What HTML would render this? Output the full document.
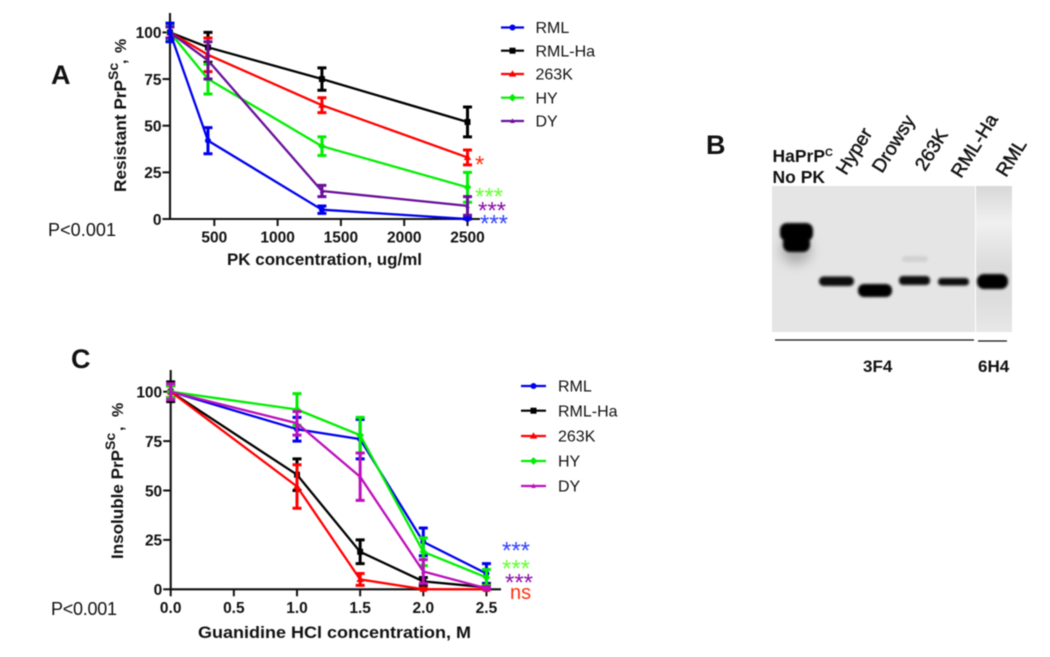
<!DOCTYPE html>
<html>
<head>
<meta charset="utf-8">
<title>PrPSc resistance charts</title>
<style>
html,body{margin:0;padding:0;background:#fff;width:1050px;height:657px;overflow:hidden}
svg{display:block;filter:blur(0.4px)}
text{font-family:"Liberation Sans",Arial,sans-serif;fill:#111}
.b{font-weight:bold}
</style>
</head>
<body>
<svg id="fig" xmlns="http://www.w3.org/2000/svg" width="1050" height="657" viewBox="0 0 1050 657">
<defs>
<filter id="b1" x="-30%" y="-100%" width="160%" height="300%"><feGaussianBlur stdDeviation="1.3"/></filter>
<filter id="b2" x="-30%" y="-50%" width="160%" height="200%"><feGaussianBlur stdDeviation="3"/></filter>
<filter id="b3" x="-50%" y="-50%" width="200%" height="200%"><feGaussianBlur stdDeviation="6"/></filter>
<linearGradient id="rg" x1="0" y1="0" x2="0" y2="1">
<stop offset="0" stop-color="#d8d8d8"/><stop offset=".25" stop-color="#f0f0f0"/><stop offset=".55" stop-color="#dcdcdc"/><stop offset=".8" stop-color="#dedede"/><stop offset="1" stop-color="#e8e8e8"/>
</linearGradient>
</defs>

<text class="b" x="51" y="84" font-size="27">A</text>
<text class="b" x="706" y="154" font-size="27">B</text>
<text class="b" x="71" y="368" font-size="27">C</text>
<text x="48" y="236" font-size="18" textLength="68" fill="#222">P&lt;0.001</text>
<text x="51" y="615" font-size="18" textLength="66" fill="#222">P&lt;0.001</text>

<g id="chartA"></g>
<g id="chartC"></g>

<!-- Panel A titles -->
<text class="b" x="227" y="265" font-size="17" textLength="195" lengthAdjust="spacingAndGlyphs">PK concentration, ug/ml</text>
<text class="b" transform="translate(126,192) rotate(-90)" font-size="17" textLength="112" lengthAdjust="spacingAndGlyphs">Resistant PrP</text>
<text class="b" transform="translate(118,80) rotate(-90)" font-size="14">Sc</text>
<text class="b" transform="translate(126,64) rotate(-90)" font-size="16">,</text>
<text class="b" transform="translate(126,53) rotate(-90)" font-size="16">%</text>

<!-- Panel C titles -->
<text class="b" x="198" y="638" font-size="17" textLength="273" lengthAdjust="spacingAndGlyphs">Guanidine HCl concentration, M</text>
<text class="b" transform="translate(123,559) rotate(-90)" font-size="17" textLength="109" lengthAdjust="spacingAndGlyphs">Insoluble PrP</text>
<text class="b" transform="translate(115,450) rotate(-90)" font-size="14">Sc</text>
<text class="b" transform="translate(123,431) rotate(-90)" font-size="16">,</text>
<text class="b" transform="translate(123,417) rotate(-90)" font-size="16">%</text>

<!-- Significance marks -->
<text x="475" y="172.5" font-size="24" style="fill:#ff3010">*</text>
<text x="475" y="204.5" font-size="24" style="fill:#66ff33">***</text>
<text x="478" y="218.5" font-size="24" style="fill:#8a10a8">***</text>
<text x="480" y="231.5" font-size="24" style="fill:#3344ff">***</text>
<text x="502" y="558.5" font-size="24" style="fill:#3344ff">***</text>
<text x="502" y="576.5" font-size="24" style="fill:#66ff33">***</text>
<text x="505" y="590.5" font-size="24" style="fill:#8a10a8">***</text>
<text x="510" y="599" font-size="20" style="fill:#ff3010">ns</text>

<!-- Panel B -->
<g id="blot">
<rect x="772" y="186" width="203" height="146" fill="#e5e5e5"/>
<rect x="976" y="186" width="36" height="146" fill="url(#rg)"/>
<ellipse cx="796" cy="250" rx="15" ry="14" fill="#aaa" filter="url(#b3)"/>
<rect x="780" y="223" width="33" height="18" rx="7" fill="#000" filter="url(#b1)"/>
<rect x="783" y="236" width="27" height="16" rx="7" fill="#060606" filter="url(#b1)"/>
<rect x="819" y="276.5" width="35" height="9.5" rx="4.5" fill="#0a0a0a" filter="url(#b1)"/>
<rect x="858" y="284" width="34" height="13" rx="6" fill="#050505" filter="url(#b1)"/>
<rect x="902" y="256" width="26" height="6" rx="3" fill="#d2d2d2" filter="url(#b1)"/>
<rect x="899" y="276" width="31" height="9" rx="4" fill="#080808" filter="url(#b1)"/>
<rect x="938" y="278" width="31" height="7.5" rx="3.5" fill="#0c0c0c" filter="url(#b1)"/>
<rect x="977" y="274" width="31" height="15" rx="7" fill="#000" filter="url(#b1)"/>
<line x1="775" y1="340" x2="974" y2="340" stroke="#111" stroke-width="1.2"/>
<line x1="978" y1="341" x2="1007" y2="341" stroke="#111" stroke-width="1.2"/>
<text class="b" x="863" y="372" font-size="17">3F4</text>
<text class="b" x="978" y="372" font-size="17">6H4</text>
<text class="b" x="772.5" y="162" font-size="17.5">HaPrP<tspan dy="-6" font-size="11">C</tspan></text>
<text class="b" x="772.5" y="183" font-size="17.5">No PK</text>
<text transform="translate(846,176) rotate(-58)" font-size="19" stroke="#111" stroke-width="0.45">Hyper</text>
<text transform="translate(882,174) rotate(-58)" font-size="19" stroke="#111" stroke-width="0.45">Drowsy</text>
<text transform="translate(925,172) rotate(-58)" font-size="19" stroke="#111" stroke-width="0.45">263K</text>
<text transform="translate(961,179) rotate(-58)" font-size="19" stroke="#111" stroke-width="0.45">RML-Ha</text>
<text transform="translate(1006,178) rotate(-58)" font-size="19" stroke="#111" stroke-width="0.45">RML</text>
</g>

<script>
// Panel A data
var aCategories = [150, 450, 1350, 2500];
var aXTicks = [500, 1000, 1500, 2000, 2500];
var aYTicks = [0, 25, 50, 75, 100];
var aRML = [100, 42, 5, 0];
var aRMLErr = [5, 7, 2, 0.5];
var aRMLHa = [100, 92, 75, 52];
var aRMLHaErr = [3, 8, 6, 8];
var a263K = [100, 88, 61, 33];
var a263KErr = [3, 9, 4, 4];
var aHY = [100, 75, 39, 17];
var aHYErr = [4, 8, 5, 8];
var aDY = [100, 85, 15, 7];
var aDYErr = [3, 10, 3, 5];

// Panel C data
var cCategories = [0, 1, 1.5, 2, 2.5];
var cXTicks = [0, 0.5, 1, 1.5, 2, 2.5];
var cYTicks = [0, 25, 50, 75, 100];
var cRML = [100, 81, 76, 24, 8];
var cRMLErr = [3, 6, 10, 7, 5];
var cRMLHa = [100, 58, 19, 4, 1];
var cRMLHaErr = [5, 8, 6, 2, 1.5];
var c263K = [100, 52, 5, 0, 0];
var c263KErr = [3, 11, 3, 0.5, 0.5];
var cHY = [100, 91, 78, 19, 6];
var cHYErr = [3, 8, 9, 7, 4];
var cDY = [100, 84, 57, 9, 0.5];
var cDYErr = [4, 6, 12, 6, 1];

var legendLabels = ['RML', 'RML-Ha', '263K', 'HY', 'DY'];

var NS = 'http://www.w3.org/2000/svg';

function make(parent, tag, attrs, name) {
  var e = document.createElementNS(NS, tag);
  for (var k in attrs) { e.setAttribute(k, attrs[k]); }
  
  
  parent.appendChild(e);
  return e;
}

function marker(parent, shape, cx, cy, color, name) {
  if (shape === 'circle') {
    return make(parent, 'circle', {cx: cx, cy: cy, r: 3, fill: color}, name);
  }
  if (shape === 'square') {
    return make(parent, 'rect', {x: cx - 3, y: cy - 3, width: 6, height: 6, fill: color}, name);
  }
  var pts;
  if (shape === 'triangle') {
    pts = [[cx, cy - 3.8], [cx + 3.8, cy + 2.6], [cx - 3.8, cy + 2.6]];
  } else if (shape === 'diamond') {
    pts = [[cx, cy - 3.9], [cx + 3.9, cy], [cx, cy + 3.9], [cx - 3.9, cy]];
  } else {
    pts = [[cx, cy - 2.8], [cx + 2.2, cy + 2], [cx - 2.2, cy + 2]];
  }
  return make(parent, 'polygon', {points: pts.map(function (p) { return p.join(','); }).join(' '), fill: color}, name);
}

function drawSeries(parent, id, cats, vals, errs, color, shape, xf, yf) {
  var g = make(parent, 'g', {}, 'series-' + id);
  var d = cats.map(function (c, i) { return (i ? 'L' : 'M') + xf(c).toFixed(1) + ' ' + yf(vals[i]).toFixed(1); }).join(' ');
  cats.forEach(function (c, i) {
    var x = xf(c);
    var hi = yf(vals[i] + errs[i]);
    var lo = yf(Math.max(vals[i] - errs[i], 0));
    make(g, 'path', {
      d: 'M' + x + ' ' + hi + ' V' + lo + ' M' + (x - 4.5) + ' ' + hi + ' H' + (x + 4.5) + ' M' + (x - 4.5) + ' ' + lo + ' H' + (x + 4.5),
      stroke: color, 'stroke-width': 3, fill: 'none'
    }, 'error-bar-' + id + '-' + i);
  });
  make(g, 'path', {d: d, stroke: color, 'stroke-width': 2.3, fill: 'none', 'stroke-linejoin': 'round'}, 'line-' + id);
  cats.forEach(function (c, i) {
    marker(g, shape, xf(c), yf(vals[i]), color, 'point-' + id + '-' + i);
  });
}

function drawAxes(parent, prefix, x0, y0, yTop, xEnd, xTicks, yTicks, xf, yf, fmt) {
  make(parent, 'path', {d: 'M' + x0 + ' ' + yTop + ' V' + (y0 + 1), stroke: '#111', 'stroke-width': 2.1, fill: 'none'}, prefix + '-y-axis');
  make(parent, 'path', {d: 'M' + (x0 - 1) + ' ' + y0 + ' H' + xEnd, stroke: '#111', 'stroke-width': 2.1, fill: 'none'}, prefix + '-x-axis');
  yTicks.forEach(function (v) {
    var y = yf(v);
    make(parent, 'path', {d: 'M' + (x0 - 7.5) + ' ' + y + ' H' + x0, stroke: '#111', 'stroke-width': 2}, prefix + '-y-tick-' + v);
    var t = make(parent, 'text', {x: x0 - 8.5, y: y + 5.8, 'font-size': 15.5, 'text-anchor': 'end', 'font-weight': 'bold'}, prefix + '-y-label-' + v);
    t.textContent = String(v);
  });
  xTicks.forEach(function (v) {
    var x = xf(v);
    make(parent, 'path', {d: 'M' + x + ' ' + y0 + ' V' + (y0 + 7), stroke: '#111', 'stroke-width': 2}, prefix + '-x-tick-' + v);
    var t = make(parent, 'text', {x: x, y: y0 + 23.5, 'font-size': 15.5, 'text-anchor': 'middle', 'font-weight': 'bold'}, prefix + '-x-label-' + v);
    t.textContent = fmt(v);
  });
}

function drawLegend(parent, prefix, x1, x2, tx, rows, colors, shapes) {
  legendLabels.forEach(function (label, i) {
    var g = make(parent, 'g', {}, prefix + '-legend-entry-' + label.toLowerCase());
    make(g, 'line', {x1: x1, x2: x2, y1: rows[i], y2: rows[i], stroke: colors[i], 'stroke-width': 2.2}, prefix + '-legend-line-' + i);
    marker(g, shapes[i], (x1 + x2) / 2, rows[i], colors[i], prefix + '-legend-marker-' + i);
    var t = make(g, 'text', {x: tx, y: rows[i] + 5.7, 'font-size': 16}, prefix + '-legend-label-' + i);
    t.textContent = label;
  });
}

function xA(v) { return 170 + (v - 150) * 0.1266; }
function yA(v) { return 219 - v * 1.866; }
function xC(v) { return 170.7 + v * 126.3; }
function yC(v) { return 589.3 - v * 1.976; }

var chartA = document.getElementById('chartA');
var chartC = document.getElementById('chartC');
var shapes = ['circle', 'square', 'triangle', 'diamond', 'star'];

drawAxes(chartA, 'a', 170, 219, 13, 480, aXTicks, aYTicks, xA, yA, function (v) { return String(v); });
drawSeries(chartA, 'a-rml-ha', aCategories, aRMLHa, aRMLHaErr, '#000000', 'square', xA, yA);
drawSeries(chartA, 'a-263k', aCategories, a263K, a263KErr, '#ff0000', 'triangle', xA, yA);
drawSeries(chartA, 'a-hy', aCategories, aHY, aHYErr, '#00ee00', 'diamond', xA, yA);
drawSeries(chartA, 'a-dy', aCategories, aDY, aDYErr, '#6a0f9a', 'star', xA, yA);
drawSeries(chartA, 'a-rml', aCategories, aRML, aRMLErr, '#0000ee', 'circle', xA, yA);
drawLegend(chartA, 'a', 501, 524, 535.5, [27.5, 50.7, 74, 97.7, 121], ['#0000ee', '#000000', '#ff0000', '#00ee00', '#6a0f9a'], shapes);

drawAxes(chartC, 'c', 170.7, 589.3, 370, 501, cXTicks, cYTicks, xC, yC, function (v) { return v.toFixed(1); });
drawSeries(chartC, 'c-rml', cCategories, cRML, cRMLErr, '#0000ee', 'circle', xC, yC);
drawSeries(chartC, 'c-rml-ha', cCategories, cRMLHa, cRMLHaErr, '#000000', 'square', xC, yC);
drawSeries(chartC, 'c-263k', cCategories, c263K, c263KErr, '#ff0000', 'triangle', xC, yC);
drawSeries(chartC, 'c-hy', cCategories, cHY, cHYErr, '#00ee00', 'diamond', xC, yC);
drawSeries(chartC, 'c-dy', cCategories, cDY, cDYErr, '#bb10bb', 'star', xC, yC);
drawLegend(chartC, 'c', 521, 546, 558, [386, 410.7, 436, 461, 486], ['#0000ee', '#000000', '#ff0000', '#00ee00', '#bb10bb'], shapes);
</script>
</svg>
</body>
</html>
